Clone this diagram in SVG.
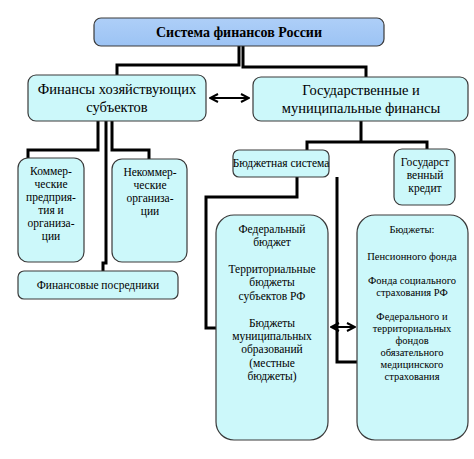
<svg xmlns="http://www.w3.org/2000/svg" width="474" height="459" viewBox="0 0 474 459">
<defs>
<linearGradient id="g" x1="0" y1="0" x2="0" y2="1"><stop offset="0" stop-color="#aecff8"/><stop offset="1" stop-color="#9cc3f4"/></linearGradient>
<marker id="ah" viewBox="0 0 10 10" refX="9" refY="5" markerWidth="5" markerHeight="5" orient="auto-start-reverse"><path d="M1,1 L9,5 L1,9" fill="none" stroke="#000" stroke-width="2"/></marker>
</defs>
<style>
.b{fill:#ccf8fa;stroke:#3a3a3a;stroke-width:1.2}
.c{fill:none;stroke:#000;stroke-width:3}
.a{fill:none;stroke:#000;stroke-width:2}
text{fill:#000;text-anchor:middle;font-family:"Liberation Serif","Times New Roman",serif}
.t1{font-size:14px;font-weight:bold}
.t2{font-size:14.5px}
.t3{font-size:11.5px}
.t4{font-size:10.5px}
</style>
<rect width="474" height="459" fill="#fff"/>
<g id="connectors">
<path class="c" d="M239,46 V65 H117 V75"/>
<path class="c" d="M243,46 V67 H366 V77"/>
<path class="c" d="M98,121 V150 H28 V158"/>
<path class="c" d="M112,121 V150 H149 V159"/>
<path class="c" d="M106,121 V263 H103 V271"/>
<path class="c" d="M361,121 V142 M307,150 V142 H427 V149"/>
<path class="c" d="M297,177 V197 H206 V328 H216"/>
<path class="c" d="M337,177 V362 H357"/>
<path class="a" d="M210,98 H249" marker-start="url(#ah)" marker-end="url(#ah)"/>
<path class="a" d="M331,327 H355" marker-start="url(#ah)" marker-end="url(#ah)"/>
</g>
<g id="root"><rect x="94" y="18" width="290" height="28" rx="7" fill="url(#g)" stroke="#3a3a3a" stroke-width="1.2"/><text class="t1" x="239" y="37">Система финансов России</text></g>
<g id="biz"><rect class="b" x="28" y="75" width="178" height="46" rx="8"/><text class="t2" x="117" y="94">Финансы хозяйствующих</text><text class="t2" x="117" y="112">субъектов</text></g>
<g id="gov"><rect class="b" x="253" y="77" width="215" height="44" rx="8"/><text class="t2" x="361" y="95">Государственные и</text><text class="t2" x="361" y="113">муниципальные финансы</text></g>
<g id="comm"><rect class="b" x="18" y="158" width="66" height="104" rx="10"/>
<text class="t3" x="51" y="175">Коммер-</text><text class="t3" x="51" y="188">ческие</text><text class="t3" x="51" y="201">предприя-</text><text class="t3" x="51" y="214">тия и</text><text class="t3" x="51" y="227">организа-</text><text class="t3" x="51" y="240">ции</text></g>
<g id="noncomm"><rect class="b" x="112" y="159" width="75" height="103" rx="10"/>
<text class="t3" x="150" y="176">Некоммер-</text><text class="t3" x="150" y="189">ческие</text><text class="t3" x="150" y="202">организа-</text><text class="t3" x="150" y="215">ции</text></g>
<g id="interm"><rect class="b" x="18" y="271" width="160" height="28" rx="6"/><text class="t3" x="98" y="289">Финансовые посредники</text></g>
<g id="budget"><rect class="b" x="233" y="150" width="96" height="27" rx="6"/><text class="t3" x="281" y="167">Бюджетная система</text></g>
<g id="credit"><rect class="b" x="394" y="149" width="61" height="56" rx="8"/><text class="t3" x="425" y="166">Государст</text><text class="t3" x="425" y="179">венный</text><text class="t3" x="425" y="192">кредит</text></g>
<g id="federal"><rect class="b" x="216" y="215" width="112" height="225" rx="18"/>
<text class="t3" x="272" y="233">Федеральный</text><text class="t3" x="272" y="246">бюджет</text>
<text class="t3" x="272" y="273">Территориальные</text><text class="t3" x="272" y="286">бюджеты</text><text class="t3" x="272" y="300">субъектов РФ</text>
<text class="t3" x="272" y="327">Бюджеты</text><text class="t3" x="272" y="340">муниципальных</text><text class="t3" x="272" y="353">образований</text><text class="t3" x="272" y="367">(местные</text><text class="t3" x="272" y="380">бюджеты)</text></g>
<g id="funds"><rect class="b" x="357" y="215" width="111" height="225" rx="18"/>
<text class="t4" x="412" y="233">Бюджеты:</text><text class="t4" x="412" y="260">Пенсионного фонда</text>
<text class="t4" x="412" y="284">Фонда социального</text><text class="t4" x="412" y="296">страхования РФ</text>
<text class="t4" x="412" y="320">Федерального и</text><text class="t4" x="412" y="332">территориальных</text><text class="t4" x="412" y="344">фондов</text><text class="t4" x="412" y="356">обязательного</text><text class="t4" x="412" y="368">медицинского</text><text class="t4" x="412" y="380">страхования</text></g>
</svg>
